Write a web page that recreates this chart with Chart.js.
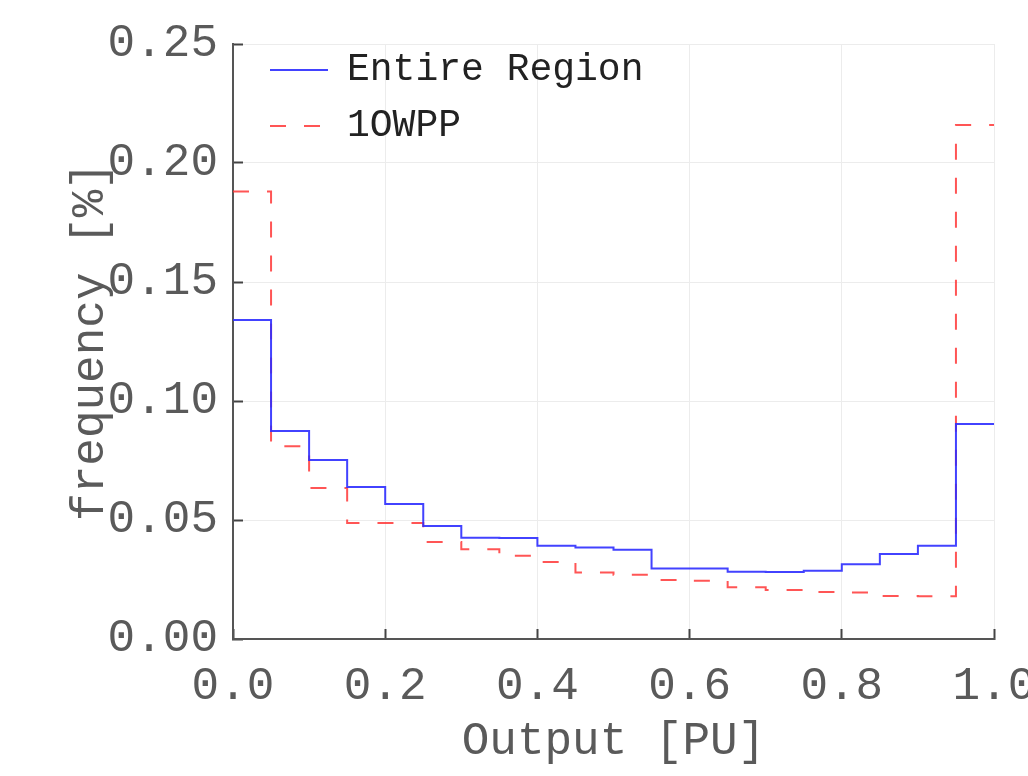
<!DOCTYPE html>
<html>
<head>
<meta charset="utf-8">
<script src="https://cdn.jsdelivr.net/npm/chart.js@4"></script>
<style>
    body { margin: 0; background: #fff; }
    #wrap { width: 1028px; height: 776px; }
</style>
</head>
<body>
<div id="wrap"><canvas id="freqChart" width="1028" height="776"></canvas></div>
<script>
// Bin edges of the output histogram (PU)
const binEdges = [0, 0.05, 0.1, 0.15, 0.2, 0.25, 0.3, 0.35, 0.4, 0.45, 0.5,
    0.55, 0.6, 0.65, 0.7, 0.75, 0.8, 0.85, 0.9, 0.95, 1.0];

// Frequency per bin
const entireRegion = [0.134, 0.0874, 0.0752, 0.0639, 0.0567, 0.0475, 0.0425, 0.0424, 0.0392, 0.0384,
    0.0375, 0.0296, 0.0296, 0.0283, 0.0282, 0.0287, 0.0314, 0.0357, 0.0392, 0.0903];
const owpp10 = [0.188, 0.081, 0.0634, 0.0487, 0.0487, 0.0408, 0.0377, 0.035, 0.0324, 0.0279,
    0.027, 0.0248, 0.0245, 0.0217, 0.0206, 0.0197, 0.0195, 0.0181, 0.018, 0.216];

const seriesLabels = ['Entire Region', '1OWPP'];
const xTicks = [0, 0.2, 0.4, 0.6, 0.8, 1.0];
const yTicks = [0, 0.05, 0.1, 0.15, 0.2, 0.25];

const MONO = "'Liberation Mono', 'DejaVu Sans Mono', monospace";
const TEXT_GREY = '#5a5a5a';

// step points: bin i runs from binEdges[i] to binEdges[i+1], last value held to 1.0
function toSteps(values) {
    return binEdges.map((x, i) => ({ x: x, y: values[Math.min(i, values.length - 1)] }));
}

// legend items: keep the dataset's dash and width on the line sample
function legendLabels(chart) {
    const items = Chart.defaults.plugins.legend.labels.generateLabels(chart);
    items.forEach(item => {
        const ds = chart.data.datasets[item.datasetIndex];
        item.lineDash = ds.borderDash || [];
        item.lineWidth = ds.borderWidth;
        item.strokeStyle = ds.borderColor;
    });
    return items;
}

// move the in-plot legend to where the original sits
const legendNudge = {
    id: 'legendNudge',
    afterLayout(chart) {
        chart.legend.left += 19;
        chart.legend.top += 33;
    }
};

const ctx = document.getElementById('freqChart').getContext('2d');
new Chart(ctx, {
    type: 'line',
    data: {
        datasets: [{
            label: seriesLabels[0],
            data: toSteps(entireRegion),
            borderColor: 'rgba(45, 45, 255, 0.9)',
            borderWidth: 2,
            stepped: 'before',
            pointRadius: 0,
            fill: false
        }, {
            label: seriesLabels[1],
            data: toSteps(owpp10),
            borderColor: 'rgba(255, 55, 55, 0.85)',
            borderWidth: 2,
            borderDash: [16, 18],
            stepped: 'before',
            pointRadius: 0,
            fill: false
        }]
    },
    options: {
        responsive: false,
        animation: false,
        layout: {
            padding: { left: 0, top: 44, right: 34, bottom: 0 }
        },
        plugins: {
            legend: {
                position: 'chartArea',
                align: 'start',
                labels: {
                    usePointStyle: true,
                    pointStyle: 'line',
                    pointStyleWidth: 58,
                    padding: 18,
                    color: '#222',
                    font: { family: MONO, size: 38 },
                    generateLabels: legendLabels
                }
            },
            tooltip: { enabled: false }
        },
        scales: {
            x: {
                type: 'linear',
                min: 0,
                max: 1,
                afterBuildTicks: (scale) => {
                    scale.ticks = xTicks.map(v => ({ value: v }));
                },
                afterFit: (scale) => {
                    scale.height = 137;
                    scale.paddingLeft = 0;
                    scale.paddingRight = 0;
                },
                grid: {
                    color: '#ececec',
                    tickColor: '#444',
                    tickLength: -10,
                    tickWidth: 2
                },
                border: { color: '#555', width: 2 },
                ticks: {
                    autoSkip: false,
                    maxRotation: 0,
                    padding: 30,
                    color: TEXT_GREY,
                    font: { family: MONO, size: 46 },
                    callback: (v) => Number(v).toFixed(1)
                },
                title: {
                    display: true,
                    text: 'Output [PU]',
                    color: TEXT_GREY,
                    padding: { top: 0, bottom: 7 },
                    font: { family: MONO, size: 46 }
                }
            },
            y: {
                min: 0,
                max: 0.25,
                afterBuildTicks: (scale) => {
                    scale.ticks = yTicks.map(v => ({ value: v }));
                },
                afterFit: (scale) => {
                    scale.width = 233;
                    scale.paddingTop = 0;
                    scale.paddingBottom = 0;
                },
                grid: {
                    color: '#ececec',
                    tickColor: '#444',
                    tickLength: -10,
                    tickWidth: 2
                },
                border: { color: '#555', width: 2 },
                ticks: {
                    autoSkip: false,
                    padding: 25,
                    color: TEXT_GREY,
                    font: { family: MONO, size: 46 },
                    callback: (v) => Number(v).toFixed(2)
                },
                title: {
                    display: true,
                    text: 'frequency [%]',
                    color: TEXT_GREY,
                    padding: { top: 63, bottom: 0 },
                    font: { family: MONO, size: 46 }
                }
            }
        }
    },
    plugins: [legendNudge]
});
</script>
</body>
</html>
